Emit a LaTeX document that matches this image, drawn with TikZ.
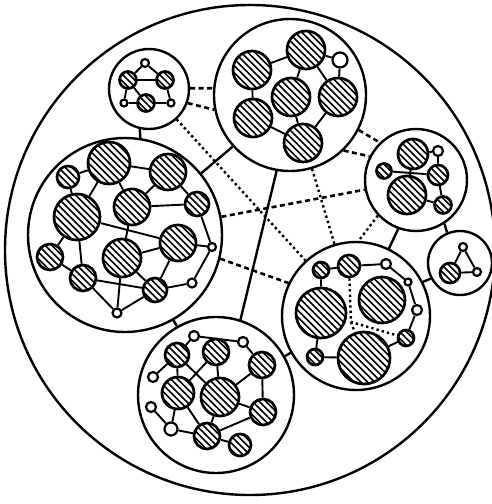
\documentclass[tikz,border=0pt]{standalone}
\usetikzlibrary{calc}
\pgfdeclarelayer{bg}
\pgfsetlayers{bg,main}
\tikzset{
 hatch/.style={path picture={\foreach \k in {-8,...,8}{\draw[line width=1.6pt] ([shift={(\k*6.8-45,-45)}]path picture bounding box.center) -- ++(90,90);}}},
 hn/.style={circle, draw, line width=2.7pt, fill=white, inner sep=0pt, minimum size=2*#1pt, hatch},
 sn/.style={circle, draw, line width=2.2pt, fill=white, inner sep=0pt, minimum size=2*#1pt},
 cl/.style={circle, draw, line width=2.4pt, inner sep=0pt, minimum size=2*#1pt},
 ed/.style={line width=1.9pt},
 link/.style={line width=2.4pt},
 dsh/.style={line width=2.6pt, dash pattern=on 5pt off 3.5pt},
 dtt/.style={line width=2.4pt, dash pattern=on 2.4pt off 3pt},
}
\begin{document}
\begin{tikzpicture}[x=1pt,y=-1pt]
\useasboundingbox (0,0) rectangle (491,504);
% outer boundary
\node[cl=245] (O) at (250,250) {};
% clusters
\node[cl=40] (A) at (149,89) {};
\node[cl=76] (B) at (290,95) {};
\node[cl=97] (C) at (125,235) {};
\node[cl=78] (D) at (216,395) {};
\node[cl=51] (E) at (416,180) {};
\node[cl=32] (F) at (460,263) {};
\node[cl=74] (G) at (356,316) {};
% solid links between clusters
\draw[link] (A.-103) -- (C.81);
\draw[link] (C.39) -- (B.222);
\draw[link] (C) -- (D);
\draw[link] (B.-100) -- (D.72);
\draw[link] (D) -- (G);
\draw[link] (E.-57) -- (F.113);
\draw[link] (E.-110) -- (G.64);
\draw[link] (F.208) -- (G.27);
% dashed links
\draw[dsh] (A.1.5) -- (B.175);
\draw[dsh] (A.-20.5) -- (B.-169);
\draw[dsh] (B.-27.6) -- (E.134);
\draw[dsh] (B.-46) -- (E.153);
\draw[dsh] (C) -- (E);
\draw[dsh] (C.-14.7) -- (G.154);
% dotted links
\draw[dtt] (A) -- (G);
\draw[dtt] (B) -- (G);
\draw[dtt] (E.223) -- (G.88);

% cluster A
\node[sn=4] (a1) at (145,63) {};
\node[hn=8.5] (a2) at (128,80) {};
\node[hn=8.5] (a3) at (165,80) {};
\node[sn=3.5] (a4) at (124,103) {};
\node[hn=8.5] (a5) at (146,103) {};
\node[sn=3.5] (a6) at (171,103) {};
% cluster B
\node[hn=19] (b1) at (252,70) {};
\node[hn=19] (b2) at (306,50) {};
\node[sn=7.5] (b3) at (340,60) {};
\node[hn=19] (b4) at (291,97) {};
\node[hn=19] (b5) at (338,97) {};
\node[hn=19] (b6) at (253,118) {};
\node[hn=19] (b7) at (303,143) {};
% cluster C
\node[hn=11] (c1) at (68,177) {};
\node[hn=21] (c2) at (109,163) {};
\node[hn=18] (c3) at (168,172) {};
\node[hn=23] (c4) at (77,217) {};
\node[hn=18] (c5) at (132,207) {};
\node[hn=12] (c6) at (197,204) {};
\node[hn=13] (c7) at (50,257) {};
\node[hn=19] (c8) at (122,258) {};
\node[hn=18] (c9) at (178,243) {};
\node[hn=13] (c10) at (83,278) {};
\node[hn=12] (c11) at (155,290) {};
\node[sn=4] (c12) at (212,247) {};
\node[sn=4.5] (c13) at (192,283) {};
\node[sn=4.5] (c14) at (117,313) {};
% cluster D
\node[sn=5] (d1) at (194,336) {};
\node[sn=5] (d2) at (243,342) {};
\node[hn=12] (d3) at (177,355) {};
\node[hn=13] (d4) at (216,352) {};
\node[hn=13] (d5) at (262,365) {};
\node[sn=5] (d6) at (153,377) {};
\node[hn=16] (d7) at (178,393) {};
\node[hn=19] (d8) at (220,397) {};
\node[sn=5] (d9) at (151,407) {};
\node[hn=13] (d10) at (263,412) {};
\node[sn=6.5] (d11) at (171,429) {};
\node[hn=13] (d12) at (207,436) {};
\node[hn=11] (d13) at (240,445) {};
% cluster E
\node[hn=15] (e1) at (413,154) {};
\node[sn=5] (e2) at (438,151) {};
\node[hn=7.5] (e3) at (384,171) {};
\node[hn=10] (e4) at (438,175) {};
\node[hn=19] (e5) at (407,195) {};
\node[hn=8.5] (e6) at (443,205) {};
% cluster F
\node[sn=4] (f1) at (463,247) {};
\node[sn=4] (f2) at (477,272) {};
\node[hn=10] (f3) at (450,273) {};
% cluster G
\node[hn=8] (g1) at (321,270) {};
\node[hn=11] (g2) at (349,266) {};
\node[sn=5] (g3) at (386,264) {};
\node[sn=3.5] (g4) at (408,282) {};
\node[sn=5] (g5) at (417,310) {};
\node[hn=8] (g6) at (406,338) {};
\node[hn=25] (g7) at (321,313) {};
\node[hn=23] (g8) at (382,300) {};
\node[hn=26] (g9) at (364,358) {};
\node[hn=8] (g10) at (315,357) {};
\coordinate (P) at (351,322);

\begin{pgfonlayer}{bg}
% A
\draw[ed] (a1) -- (a2) (a1) -- (a3) (a2) -- (a3) (a2) -- (a4) (a2) -- (a5)
 (a4) -- (a5) (a5) -- (a6) (a3) -- (a6);
% B
\draw[ed] (b1) -- (b2) (b1) -- (b6) (b2) -- (b3) (b2) -- (b4) (b2) -- (b5)
 (b3) -- (b5) (b4) -- (b7) (b5) -- (b7) (b6) -- (b7);
% C
\draw[ed] (c1) -- (c2) (c1) -- (c4) (c2) -- (c3) (c2) -- (c4) (c2) -- (c5)
 (c3) -- (c5) (c3) -- (c6) (c5) -- (c6) (c4) -- (c9) (c5) -- (c8)
 (c4) -- (c7) (c4) -- (c10) (c6) -- (c12) (c9) -- (c12) (c8) -- (c9)
 (c7) -- (c10) (c10) -- (c11) (c10) -- (c14) (c8) -- (c14) (c8) -- (c11)
 (c11) -- (c14) (c9) -- (c11) (c11) -- (c13) (c13) -- (c12);
% D
\draw[ed] (d1) -- (d2) (d1) -- (d3) (d3) -- (d6) (d3) -- (d7) (d3) -- (d8)
 (d4) -- (d7) (d4) -- (d8) (d2) -- (d5) (d5) -- (d8) (d5) -- (d10)
 (d8) -- (d10) (d9) -- (d11) (d7) -- (d11) (d11) -- (d12) (d8) -- (d12)
 (d12) -- (d10) (d12) -- (d13) (d7) -- (d12);
% E
\draw[ed] (e1) -- (e2) (e2) -- (e4) (e3) -- (e4) (e1) -- (e5) (e4) -- (e6) (e5) -- (e6);
% F
\draw[ed] (f1) -- (f2) (f1) -- (f3) (f3) -- (f2);
% G
\draw[ed] (g1) -- (g2) (g2) -- (g3) (g1) -- (g7) (g3) -- (g4) (g4) -- (g5)
 (g5) -- (g6) (g6) -- (g9) (g10) -- (g7) (g10) -- (g9);
\draw[dtt] (g2) -- (P) -- (g6) (P) -- (g9);
\end{pgfonlayer}
\end{tikzpicture}
\end{document}
